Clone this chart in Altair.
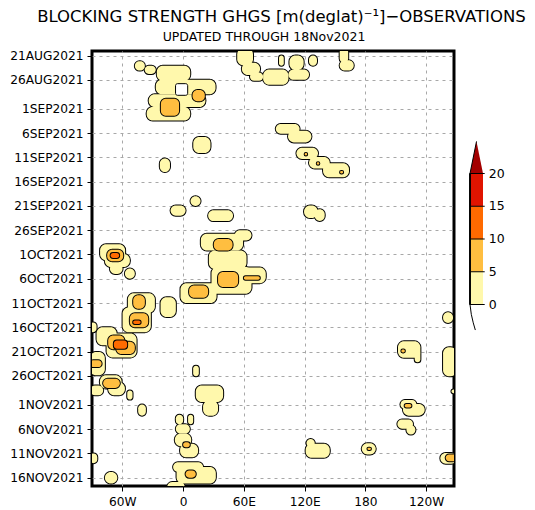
import json
import altair as alt
import pandas as pd

# ---------------- axis values ----------------
LON_TICKS = [-60, 0, 60, 120, 180, 240]
LON_LABELS = ["60W", "0", "60E", "120E", "180", "120W"]
DAY_TICKS = [0, 5, 11, 16, 21, 26, 31, 36, 41, 46, 51, 56, 61, 66, 72, 77, 82, 87]
DAY_LABELS = ["21AUG2021", "26AUG2021", "1SEP2021", "6SEP2021", "11SEP2021",
              "16SEP2021", "21SEP2021", "26SEP2021", "1OCT2021", "6OCT2021",
              "11OCT2021", "16OCT2021", "21OCT2021", "26OCT2021", "1NOV2021",
              "6NOV2021", "11NOV2021", "16NOV2021"]

# colour-bar levels
LEVELS = [0, 5, 10, 15, 20]
LEVEL_COLORS = ["#FFF8AC", "#FFBE40", "#FF6A00", "#E01400", "#A30000"]

# ---------------- blocking regions (lon0, lon1, day0, day1), day 0 = 21 Aug 2021 ----------------
LEVEL1 = [
    (-47.7, -37.8, 1.2, 3.1), (-38, -27, 2.1, 3.8),
    (-26, 7, 2.1, 5.2), (-27, 32, 5.0, 8.0), (-34, 22, 8.0, 10.6), (-36, 7, 10.6, 13.4),
    (10, 27, 16.8, 20.1), (-23, -13, 21.2, 24.0),
    (53.4, 69, -1.5, 2.0), (58, 76, 1.5, 4.0), (66, 79, 3.5, 5.2),
    (79, 104, 2.9, 6.0), (104, 124.3, 2.9, 5.0), (105, 119, 0, 3.0),
    (94.7, 99.4, 0, 2.1), (124.3, 132.2, 0, 2.1),
    (154.6, 163, -1.5, 1.5), (154.6, 168.5, 1.0, 3.1),
    (91.5, 115, 14.1, 16.1), (103.6, 126.7, 15.5, 17.9),
    (111.9, 133.2, 19.0, 21.3), (124.3, 144.8, 20.9, 23.3), (138.2, 163.8, 22.2, 25.1),
    (119.4, 133, 30.9, 33.5), (130, 139.8, 31.7, 34.1),
    (7.3, 17.2, 29.0, 31.0), (-12.4, 2.4, 30.9, 33.0), (24.7, 49.3, 31.9, 34.1),
    (17.5, 59.2, 36.7, 40.2), (51, 67.5, 36.0, 38.1), (25.4, 62.6, 40.2, 44.0),
    (59.2, 81.6, 43.7, 46.9), (28, 67.5, 43.6, 49.1), (-2.6, 33, 46.9, 51.0),
    (-82, -57.3, 38.9, 42.2), (-77.3, -52.6, 40.9, 43.6), (-72.3, -59.8, 42.9, 45.0),
    (-57.5, -47.7, 43.9, 46.0),
    (-54.6, -27.9, 49.0, 53.0), (-59.8, -31.9, 51.9, 57.0),
    (-22.3, -7.2, 49.8, 53.9),
    (-92, -85.5, 55.0, 57.0),
    (-85.5, -65.7, 56.0, 59.7), (-75.6, -46, 57.3, 62.2),
    (-92, -77.3, 61.1, 65.9),
    (-82.2, -60.8, 65.9, 68.6), (-74, -57.5, 67.3, 70.0), (-92, -79, 68.0, 70.0),
    (-55.2, -50, 69.0, 70.9), (-44.4, -36.8, 71.9, 74.2),
    (9.9, 15.5, 63.9, 66.1),
    (12.5, 39.5, 68.0, 71.4), (19.7, 34.5, 71.1, 74.2),
    (-7.2, 0, 74.0, 76.0), (4.9, 9.9, 74.0, 76.0),
    (-7.2, 6.6, 76.0, 77.9), (-8.2, 8, 77.9, 80.5), (-3, 14.8, 80.0, 82.8),
    (-9.9, 19.7, 83.8, 85.8), (-6.5, 32.3, 84.8, 88.2), (-15.8, 1.7, 87.9, 90.0),
    (-77.3, -65, 85.8, 88.2), (-92, -84.8, 82.0, 84.0),
    (256.7, 266.5, 52.9, 55.1),
    (212.2, 234.3, 58.9, 62.3), (228.7, 234.3, 60.8, 63.2),
    (256.7, 270, 60.1, 66.1), (265, 270, 68.8, 69.6),
    (214.6, 230.4, 71.0, 72.8), (217.1, 238.6, 71.8, 74.2),
    (211.6, 227, 75.0, 76.9), (220.5, 229.4, 76.2, 78.1),
    (121.8, 130, 79.0, 80.7), (121, 144.8, 80.0, 82.9),
    (176.4, 190.2, 79.9, 82.2),
    (254, 270, 81.9, 84.1),
]
HOLES = [(-7.5, 4.5, 5.8, 8.2)]
LEVEL2 = [
    (-22, -4, 8.9, 12.4), (9.3, 21.4, 7.1, 9.4),
    (30.3, 48.8, 37.8, 40.2), (34.5, 54.3, 44.6, 47.7), (60, 75.7, 45.5, 46.2),
    (5.9, 24.7, 47.4, 49.9),
    (-75, -59.2, 40.0, 42.4),
    (-49.3, -37.8, 49.4, 52.2), (-52.6, -34.5, 53.1, 56.0),
    (-74, -58, 57.7, 60.5), (-66, -47.7, 59.0, 61.5),
    (-92, -80.5, 62.8, 64.2), (-79, -62.5, 66.6, 68.5),
    (0, 6.6, 79.7, 80.7), (2.4, 12.5, 85.5, 87.0),
    (218.8, 225.4, 71.8, 72.5), (259.3, 270, 82.2, 83.6),
    (120, 122.5, 20.1, 20.6), (132, 134.5, 22.0, 22.5), (155, 158, 23.8, 24.3),
    (215.5, 219, 60.6, 61.2), (182, 185.5, 80.8, 81.3),
]
LEVEL3 = [
    (-71.6, -63.2, 40.7, 41.7), (-68.4, -55.3, 58.7, 60.4), (-49.3, -42, 54.6, 55.3),
]


def frame(rows):
    return pd.DataFrame(rows, columns=["lon0", "lon1", "day0", "day1"])


FONT = "DejaVu Sans"
W, H = 362, 435

xscale = alt.Scale(domain=[-90, 267.5], nice=False, zero=False)
yscale = alt.Scale(domain=[-0.93, 88.7], nice=False, zero=False, reverse=True)

common_axis = dict(grid=True, gridColor="#a8a8a8", gridDash=[3, 4], gridWidth=1,
                   domain=False, ticks=True, tickColor="black", tickSize=5, tickWidth=1,
                   labelFont=FONT, labelFontSize=12.2, labelColor="black", labelPadding=4,
                   labelOverlap=False, labelFlush=False, title=None)
xaxis = alt.Axis(values=LON_TICKS,
                 labelExpr=f"{json.dumps(LON_LABELS)}[indexof({json.dumps(LON_TICKS)}, datum.value)]",
                 **common_axis)
yaxis = alt.Axis(values=DAY_TICKS,
                 labelExpr=f"{json.dumps(DAY_LABELS)}[indexof({json.dumps(DAY_TICKS)}, datum.value)]",
                 **common_axis)

enc = dict(x=alt.X("lon0:Q", scale=xscale, axis=xaxis), x2="lon1:Q",
           y=alt.Y("day0:Q", scale=yscale, axis=yaxis), y2="day1:Q")


def level_layers(rows, color, radius):
    base = alt.Chart(frame(rows))
    outline = base.mark_rect(fill=color, stroke="black", strokeWidth=2,
                             cornerRadius=radius, clip=True).encode(**enc)
    inner = base.mark_rect(fill=color, strokeWidth=0,
                           cornerRadius=radius, clip=True).encode(**enc)
    return [outline, inner]


holes = alt.Chart(frame(HOLES)).mark_rect(fill="white", stroke="black", strokeWidth=1,
                                          cornerRadius=2, clip=True).encode(**enc)

main = alt.layer(
    *level_layers(LEVEL1, LEVEL_COLORS[0], 6),
    holes,
    *level_layers(LEVEL2, LEVEL_COLORS[1], 5),
    *level_layers(LEVEL3, LEVEL_COLORS[2], 3),
)

# ---------------- colour bar ----------------
cbx = alt.Scale(domain=[0, 1], range=[378, 391])
cby = alt.Scale(domain=[0, 20], range=[253.5, 122.5])

cb_boxes = pd.DataFrame({"lo": LEVELS[:-1], "hi": LEVELS[1:]})
boxes = alt.Chart(cb_boxes).mark_rect().encode(
    x=alt.datum(0, scale=cbx, axis=None), x2=alt.datum(1),
    y=alt.Y("lo:Q", scale=cby, axis=None), y2="hi:Q",
    fill=alt.Fill("lo:O", scale=alt.Scale(domain=LEVELS[:-1], range=LEVEL_COLORS[:4]), legend=None),
)
top = LEVELS[-1]
tri = pd.DataFrame({"u": [0, 0.5, 1], "v": [top, top + 4.9, top]})
triangle = alt.Chart(tri).mark_area(color=LEVEL_COLORS[4]).encode(
    x=alt.X("u:Q", scale=cbx, axis=None), y=alt.Y("v:Q", scale=cby, axis=None), y2=alt.datum(top))
tri_edge = alt.Chart(tri.iloc[:2]).mark_line(color="black", strokeWidth=1).encode(
    x=alt.X("u:Q", scale=cbx, axis=None), y=alt.Y("v:Q", scale=cby, axis=None))
tail = pd.DataFrame({"u": [0, 0.1, 0.25, 0.41], "v": [0, -1.5, -2.8, -3.9]})
tail_line = alt.Chart(tail).mark_line(color="black", strokeWidth=1).encode(
    x=alt.X("u:Q", scale=cbx, axis=None), y=alt.Y("v:Q", scale=cby, axis=None))
lv = pd.DataFrame({"level": LEVELS})
ticks = alt.Chart(lv).mark_rule(color="black", strokeWidth=1).encode(
    x=alt.datum(0, scale=cbx, axis=None), x2=alt.datum(1.13),
    y=alt.Y("level:Q", scale=cby, axis=None))
left_edge = alt.Chart(lv).mark_rule(color="black", strokeWidth=1).encode(
    x=alt.datum(0, scale=cbx, axis=None),
    y=alt.datum(LEVELS[0], scale=cby, axis=None), y2=alt.datum(LEVELS[-1]))
labels = alt.Chart(lv).mark_text(align="left", baseline="middle", font=FONT, fontSize=12.5,
                                 color="black", dx=4).encode(
    x=alt.datum(1.13, scale=cbx, axis=None),
    y=alt.Y("level:Q", scale=cby, axis=None), text="level:Q")

colorbar = alt.layer(boxes, triangle, tri_edge, tail_line, ticks, left_edge, labels)

panel = alt.layer(main, colorbar).resolve_scale(
    x="independent", y="independent", fill="independent"
).properties(
    width=W, height=H,
    title=alt.TitleParams("UPDATED THROUGH 18Nov2021", font=FONT, fontSize=12.5,
                          fontWeight="normal", color="black", anchor="middle",
                          frame="group", dx=-9, offset=6.5),
)

chart = alt.vconcat(
    panel,
    title=alt.TitleParams("BLOCKING STRENGTH GHGS [m(deglat)\u207b\u00b9]\u2212OBSERVATIONS",
                          font=FONT, fontSize=16.5, fontWeight="normal", color="black",
                          anchor="start", dx=29, offset=4),
).properties(padding=0).configure_view(stroke="black", strokeWidth=3)

chart.save("out.html", embed_options={"renderer": "svg", "actions": False})
